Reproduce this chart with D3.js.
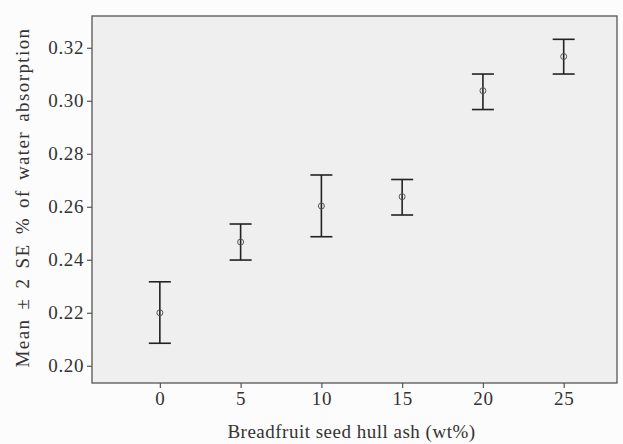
<!DOCTYPE html>
<html>
<head>
<meta charset="utf-8">
<script src="https://cdn.jsdelivr.net/npm/d3@7"></script>
<style>
  html, body { margin: 0; padding: 0; background: #fcfcfc; }
  svg { display: block; }
  text { font-family: "Liberation Serif", "DejaVu Serif", serif; fill: #333; }
</style>
</head>
<body>
<svg id="chart" width="623" height="444"></svg>
<script>
// Water absorption by breadfruit seed hull ash content (mean and ±2 SE limits)
const ashContent = [0, 5, 10, 15, 20, 25];
const meanAbsorption = [0.2200, 0.2467, 0.2603, 0.2638, 0.3038, 0.3167];
const upperLimit = [0.2317, 0.2535, 0.2720, 0.2703, 0.3101, 0.3232];
const lowerLimit = [0.2085, 0.2399, 0.2487, 0.2569, 0.2967, 0.3101];
const xTicks = [0, 5, 10, 15, 20, 25];
const yTicks = [0.20, 0.22, 0.24, 0.26, 0.28, 0.30, 0.32];

const svg = d3.select("#chart");
const plotLeft = 92, plotRight = 617, plotTop = 16, plotBottom = 383;

const x = d3.scaleLinear().domain([-4.2, 28.3]).range([plotLeft, plotRight]);
const y = d3.scaleLinear().domain([0.1935, 0.3320]).range([plotBottom, plotTop]);

// panel
svg.append("rect")
  .attr("x", plotLeft).attr("y", plotTop)
  .attr("width", plotRight - plotLeft).attr("height", plotBottom - plotTop)
  .attr("fill", "#efefef")
  .attr("stroke", "#555").attr("stroke-width", 1.3);

// axes
const xAxis = d3.axisBottom(x).tickValues(xTicks).tickFormat(d3.format("d")).tickSize(5).tickPadding(4);
const yAxis = d3.axisLeft(y).tickValues(yTicks).tickFormat(d3.format(".2f")).tickSize(5).tickPadding(3);

const gx = svg.append("g").attr("transform", `translate(0,${plotBottom})`).call(xAxis);
const gy = svg.append("g").attr("transform", `translate(${plotLeft},0)`).call(yAxis);
[gx, gy].forEach(g => {
  g.select(".domain").remove();
  g.selectAll(".tick line").attr("stroke", "#555").attr("stroke-width", 1.2);
  g.selectAll(".tick text").attr("fill", "#333").style("font-size", "19px")
    .style("letter-spacing", "0.6px")
    .style("font-family", "'Liberation Serif', serif");
});

// error bars
const data = ashContent.map((a, i) => ({ a, m: meanAbsorption[i], hi: upperLimit[i], lo: lowerLimit[i] }));
const capHalf = 11;
const bars = svg.append("g").attr("stroke", "#222").attr("stroke-width", 1.6).attr("fill", "none");
data.forEach(d => {
  const cx = x(d.a);
  bars.append("line").attr("x1", cx).attr("x2", cx).attr("y1", y(d.hi)).attr("y2", y(d.lo));
  bars.append("line").attr("x1", cx - capHalf).attr("x2", cx + capHalf).attr("y1", y(d.hi)).attr("y2", y(d.hi));
  bars.append("line").attr("x1", cx - capHalf).attr("x2", cx + capHalf).attr("y1", y(d.lo)).attr("y2", y(d.lo));
});
svg.append("g").selectAll("circle").data(data).join("circle")
  .attr("cx", d => x(d.a)).attr("cy", d => y(d.m)).attr("r", 3)
  .attr("fill", "none").attr("stroke", "#555").attr("stroke-width", 1);

// axis titles
svg.append("text")
  .attr("x", (plotLeft + plotRight) / 2 - 3).attr("y", 438)
  .attr("text-anchor", "middle").style("font-size", "19px")
  .style("letter-spacing", "0.5px")
  .text("Breadfruit seed hull ash (wt%)");
svg.append("text")
  .attr("transform", `translate(29,${(plotTop + plotBottom) / 2 - 2}) rotate(-90)`)
  .attr("text-anchor", "middle").style("font-size", "19px")
  .style("letter-spacing", "1.4px").style("word-spacing", "3px")
  .text("Mean ± 2 SE % of water absorption");
</script>
</body>
</html>
